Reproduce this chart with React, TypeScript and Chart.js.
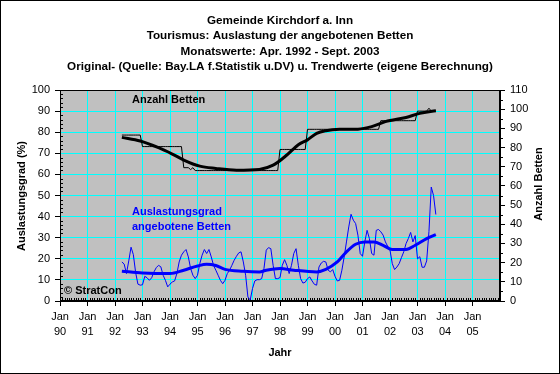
import React, { useEffect, useRef } from 'react';
import { Chart, registerables } from 'chart.js';

Chart.register(...registerables);

// Months counted from Jan 1990 (0). Data start: Apr 1992 = 27, end: Sep 2003 = 164
const START_MONTH = 27;

const titleLines = [
  'Gemeinde Kirchdorf a. Inn',
  'Tourismus: Auslastung der angebotenen Betten',
  'Monatswerte: Apr. 1992 - Sept. 2003',
  'Original- (Quelle: Bay.LA f.Statistik u.DV) u. Trendwerte (eigene Berechnung)',
];

const xTickMonths = [0, 12, 24, 36, 48, 60, 72, 84, 96, 108, 120, 132, 144, 156, 168, 180];
const xTickYears = ['90', '91', '92', '93', '94', '95', '96', '97', '98', '99', '00', '01', '02', '03', '04', '05'];

// Auslastungsgrad (%), monthly original values Apr 1992 .. Sep 2003
const auslastung = [
  18.5, 17.5, 13, 19, 25.5, 22, 13.5, 8, 7.5,
  7.7, 11.7, 11, 9.8, 11, 13.8, 15.8, 16.9, 16.2, 12.2, 9.8, 6.7,
  8, 9, 9.5, 13, 18.5, 21.7, 23.3, 24.4, 20.9, 15.4, 12.2, 10.6,
  12.2, 17.7, 21.7, 24.4, 22.5, 24.4, 20.9, 16.9, 14.6, 12.2, 9.8, 8.2,
  9.8, 13, 14.6, 16.9, 19.3, 21.2, 22.8, 23.3, 18.5, 12.2, 1.9, 0.5,
  5.9, 9.5, 10.1, 10.1, 10.6, 15.4, 24.1, 25.3, 24.8, 16.9, 10.6, 10.6,
  11.1, 16.9, 19.6, 16.9, 13, 16.9, 22.5, 24.8, 16.9, 10.6, 8.5, 8.9,
  10.6, 11.4, 9.5, 7.9, 7.5, 16.1, 18, 18.8, 18.5, 14.6, 13.8, 14.9,
  11.7, 9.5, 9.8, 14.6, 20.9, 28, 35.1, 41.1, 38.3, 36.7, 31.2, 22.5,
  21.2, 28, 33.5, 29.6, 22.5, 21.7, 33.5, 33.9, 32.8, 31.2, 28, 25.9,
  24.1, 17.7, 14.9, 16.1, 17.7, 20.6, 23.3, 27.2, 29.6, 32.5, 28, 31,
  20, 21, 16, 16, 19, 33, 54, 50, 41,
];

// Anzahl Betten, monthly original values Apr 1992 .. Sep 2003
const betten = [
  86.5, 86.5, 86.5, 86.5, 86.5, 86.5, 86.5, 86.5, 86.5,
  80.5, 80.5, 80.5, 80.5, 80.5, 80.5, 80.5, 80.5, 80.5, 80.5, 80.5, 80.5,
  80.5, 80.5, 80.5, 80.5, 80.5, 80.5, 69.5, 69.5, 69.5, 68.5, 69.5, 68,
  68, 68, 68, 68, 68, 68, 68, 68, 68, 68, 68, 68,
  68, 68, 68, 68, 68, 68, 68, 68, 68, 68, 68, 68,
  68, 68, 68, 68, 68, 68, 68, 68, 68, 68, 68, 68,
  79, 79, 79, 79, 79, 79, 79, 79, 79, 79, 79, 79,
  89.5, 89.5, 89.5, 89.5, 89.5, 89.5, 89.5, 89.5, 89.5, 89.5, 89.5, 89.5,
  89.5, 89.5, 89.5, 89.5, 89.5, 89.5, 89.5, 89.5, 89.5, 89.5, 89.5, 89.5,
  89.5, 89.5, 89.5, 89.5, 89.5, 89.5, 89.5, 89.5, 94, 94, 94, 94,
  94, 94, 94, 94, 94, 94, 94, 94, 94, 94, 94, 94,
  99, 99, 99, 99, 99, 100.5, 99, 99, 99.5,
];

// Trend values (own calculation)
const auslastungTrendMonths = [27, 36, 48, 54, 60, 64, 68, 72, 80, 87, 90, 96, 102, 112, 116, 121, 125, 129, 133, 137, 141, 145, 151, 155, 160, 164];
const auslastungTrend = [14.1, 13.3, 13, 14.6, 16.6, 17.4, 16.8, 15, 14.1, 13.8, 14.6, 15.4, 14.6, 13.8, 15, 18.5, 23.3, 26.9, 28, 28, 26.4, 24.4, 24.4, 26.4, 29.6, 31.5];

const bettenTrendMonths = [27, 35, 43, 49, 54, 61, 68, 77, 87, 93, 99, 104, 108, 112, 116, 122, 130, 136, 142, 151, 157, 164];
const bettenTrend = [85.3, 83.4, 79.9, 76.6, 73.5, 70.3, 69.1, 68.2, 68.6, 70.8, 76.1, 81.5, 84, 87.4, 88.8, 89.5, 89.6, 90.9, 93.5, 95.7, 97.8, 99.2];

const FONT = '"Liberation Sans", Arial, Helvetica, sans-serif';

const decorPlugin = {
  id: 'decor',
  beforeDraw(chart: any) {
    const { ctx, chartArea: a } = chart;
    ctx.save();
    ctx.fillStyle = '#ffffff';
    ctx.fillRect(0, 0, chart.width, chart.height);
    ctx.fillStyle = '#C0C0C0';
    ctx.fillRect(a.left, a.top, a.right - a.left, a.bottom - a.top);
    ctx.restore();
  },
  beforeDatasetsDraw(chart: any) {
    const { ctx, chartArea: a, scales } = chart;
    ctx.save();
    ctx.strokeStyle = '#000';
    ctx.lineWidth = 1;
    ctx.strokeRect(Math.round(a.left) + 0.5, Math.round(a.top) + 0.5, Math.round(a.right - a.left) - 1, Math.round(a.bottom - a.top) - 1);
    // minor ticks
    ctx.beginPath();
    const x = scales.x;
    for (let m = 1; m < 192; m++) {
      if (m % 12 === 0) continue;
      const px = Math.round(x.getPixelForValue(m)) + 0.5;
      ctx.moveTo(px, Math.round(a.bottom) - 1);
      ctx.lineTo(px, Math.round(a.bottom) - 3);
    }
    const y = scales.y;
    for (let v = 2; v < 100; v += 2) {
      if (v % 10 === 0) continue;
      const py = Math.round(y.getPixelForValue(v)) + 0.5;
      ctx.moveTo(Math.round(a.left) + 1, py);
      ctx.lineTo(Math.round(a.left) + 3, py);
    }
    const y2 = scales.y2;
    for (let v = 5; v < 110; v += 10) {
      const py = Math.round(y2.getPixelForValue(v)) + 0.5;
      ctx.moveTo(Math.round(a.right), py);
      ctx.lineTo(Math.round(a.right) + 3, py);
    }
    ctx.stroke();
    ctx.restore();
  },
  afterDraw(chart: any) {
    const { ctx, chartArea: a } = chart;
    ctx.save();
    ctx.fillStyle = '#000';
    ctx.textAlign = 'center';
    ctx.textBaseline = 'middle';
    ctx.font = `bold 11.7px ${FONT}`;
    const ty = [20.5, 36, 52, 67];
    titleLines.forEach((t, i) => ctx.fillText(t, 280, ty[i]));
    ctx.font = `bold 11px ${FONT}`;
    ctx.fillText('Jahr', (a.left + a.right) / 2, 353);

    ctx.save();
    ctx.translate(22, 196);
    ctx.rotate(-Math.PI / 2);
    ctx.fillText('Auslastungsgrad (%)', 0, 0);
    ctx.restore();
    ctx.save();
    ctx.translate(539, 184);
    ctx.rotate(-Math.PI / 2);
    ctx.fillText('Anzahl Betten', 0, 0);
    ctx.restore();

    ctx.textAlign = 'left';
    ctx.fillText('Anzahl Betten', 132, 100);
    ctx.fillText('\u00A9 StratCon', 64, 291);
    ctx.fillStyle = '#0000FF';
    ctx.fillText('Auslastungsgrad', 132, 212);
    ctx.fillText('angebotene Betten', 132, 227);

    ctx.strokeStyle = '#000';
    ctx.lineWidth = 1;
    ctx.strokeRect(0.5, 0.5, chart.width - 1, chart.height - 1);
    ctx.restore();
  },
};

export default function App() {
  const ref = useRef<HTMLCanvasElement>(null);
  useEffect(() => {
    if (!ref.current) return;
    Chart.defaults.font.family = FONT;
    const chart = new Chart(ref.current, {
      type: 'line',
      data: {
        datasets: [
          {
            label: 'Auslastungsgrad',
            data: auslastung.map((v, i) => ({ x: START_MONTH + i, y: v })),
            borderColor: '#0000FF',
            borderWidth: 1,
            pointRadius: 0,
            yAxisID: 'y',
          },
          {
            label: 'Auslastungsgrad Trend',
            data: auslastungTrendMonths.map((m, i) => ({ x: m, y: auslastungTrend[i] })),
            borderColor: '#0000FF',
            borderWidth: 3,
            pointRadius: 0,
            cubicInterpolationMode: 'monotone',
            yAxisID: 'y',
          },
          {
            label: 'Anzahl Betten',
            data: betten.map((v, i) => ({ x: START_MONTH + i, y: v })),
            borderColor: '#000000',
            borderWidth: 1,
            pointRadius: 0,
            yAxisID: 'y2',
          },
          {
            label: 'Anzahl Betten Trend',
            data: bettenTrendMonths.map((m, i) => ({ x: m, y: bettenTrend[i] })),
            borderColor: '#000000',
            borderWidth: 3,
            pointRadius: 0,
            cubicInterpolationMode: 'monotone',
            yAxisID: 'y2',
          },
        ],
      },
      options: {
        responsive: false,
        animation: false,
        devicePixelRatio: 1,
        layout: { padding: { top: 90, left: 0, right: 0, bottom: 0 } },
        plugins: { legend: { display: false }, title: { display: false }, tooltip: { enabled: false } },
        scales: {
          x: {
            type: 'linear',
            min: 0,
            max: 192,
            afterBuildTicks: (s: any) => {
              s.ticks = xTickMonths.map((v) => ({ value: v }));
            },
            afterFit: (s: any) => {
              s.height = 73;
            },
            ticks: {
              autoSkip: false,
              maxRotation: 0,
              padding: 4,
              color: '#000',
              font: { size: 11, lineHeight: '14.5px' as any },
              callback: (_v: any, i: number) => ['Jan', xTickYears[i]],
            },
            grid: { color: '#00FFFF', lineWidth: 1, tickColor: '#000', tickLength: 5 },
            border: { color: '#000' },
          },
          y: {
            position: 'left',
            min: 0,
            max: 100,
            afterFit: (s: any) => {
              s.width = 60;
            },
            ticks: { stepSize: 10, padding: 5, color: '#000', font: { size: 11 } },
            grid: { color: '#00FFFF', lineWidth: 1, tickColor: '#000', tickLength: 5 },
            border: { color: '#000' },
          },
          y2: {
            position: 'right',
            min: 0,
            max: 110,
            afterFit: (s: any) => {
              s.width = 60;
            },
            ticks: { stepSize: 10, padding: 5, color: '#000', font: { size: 11 } },
            grid: { drawOnChartArea: false, tickColor: '#000', tickLength: 5 },
            border: { color: '#000' },
          },
        },
      },
      plugins: [decorPlugin],
    } as any);
    return () => chart.destroy();
  }, []);
  return (
    <div style={{ position: 'fixed', left: 0, top: 0, width: 560, height: 374 }}>
      <canvas ref={ref} width={560} height={374} style={{ width: 560, height: 374, display: 'block' }} />
    </div>
  );
}
